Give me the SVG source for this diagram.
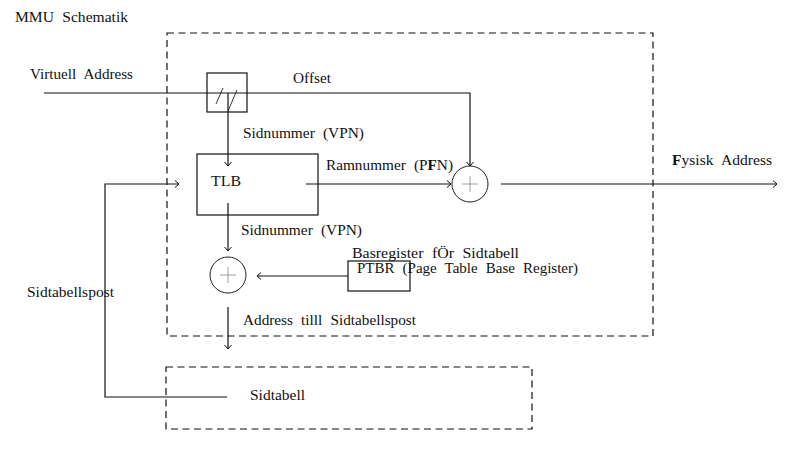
<svg xmlns="http://www.w3.org/2000/svg" width="802" height="469" viewBox="0 0 802 469">
<defs>
<style>
text{font-family:"Liberation Serif","Times New Roman",serif;font-size:14px;fill:#111;word-spacing:4px;}
.ln{fill:none;stroke:#111;stroke-width:1.2;}
.bx{fill:none;stroke:#111;stroke-width:1.2;}
.ds{fill:none;stroke:#111;stroke-width:1.2;stroke-dasharray:7,4.5;}
.cr{fill:#fff;stroke:#222;stroke-width:1;}
.pl{stroke:#888;stroke-width:0.8;}
.sl{stroke:#222;stroke-width:0.9;}
</style>
<marker id="ah" markerWidth="10" markerHeight="10" refX="7" refY="5" orient="auto" markerUnits="userSpaceOnUse">
<polyline points="3,1.5 7,5 3,8.5" fill="none" stroke="#111" stroke-width="1"/>
</marker>
</defs>
<rect width="802" height="469" fill="#fff"/>
<text x="15" y="22" textLength="113" lengthAdjust="spacingAndGlyphs">MMU Schematik</text>
<g id="mmu-boundary"><rect class="ds" x="167" y="33" width="486" height="303"/></g>
<g id="sidtabell-boundary"><rect class="ds" x="166" y="367" width="366" height="62"/></g>
<g id="connectors">
<polyline class="ln" points="44,93 470,93 470,166" marker-end="url(#ah)"/>
<line class="ln" x1="228" y1="93" x2="228" y2="166" marker-end="url(#ah)"/>
<line class="ln" x1="306" y1="184" x2="451" y2="184" marker-end="url(#ah)"/>
<line class="ln" x1="501" y1="184" x2="777" y2="184" marker-end="url(#ah)"/>
<line class="ln" x1="228" y1="203" x2="228" y2="251" marker-end="url(#ah)"/>
<line class="ln" x1="348" y1="276" x2="257" y2="276" marker-end="url(#ah)"/>
<line class="ln" x1="228" y1="307" x2="228" y2="349" marker-end="url(#ah)"/>
<polyline class="ln" points="227,397 105,397 105,184 179,184" marker-end="url(#ah)"/>
</g>
<g id="splitter">
<rect class="bx" x="207" y="73" width="40" height="39"/>
<line class="sl" x1="216" y1="104" x2="223" y2="88"/>
<line class="sl" x1="228" y1="111" x2="237" y2="90"/>
</g>
<g id="tlb">
<rect class="bx" x="197" y="154" width="121" height="61"/>
<text x="211" y="186" textLength="30" lengthAdjust="spacingAndGlyphs">TLB</text>
</g>
<g id="adder1">
<circle class="cr" cx="470" cy="184" r="18"/>
<line class="pl" x1="462" y1="184" x2="478" y2="184"/>
<line class="pl" x1="470" y1="176" x2="470" y2="192"/>
</g>
<g id="adder2">
<circle class="cr" cx="228" cy="275" r="18"/>
<line class="pl" x1="220" y1="275" x2="236" y2="275"/>
<line class="pl" x1="228" y1="267" x2="228" y2="283"/>
</g>
<g id="ptbr">
<rect class="bx" x="348" y="261" width="62" height="30"/>
<text x="352" y="258" textLength="167" lengthAdjust="spacingAndGlyphs">Basregister fÖr Sidtabell</text>
<text x="357" y="273" textLength="221" lengthAdjust="spacingAndGlyphs">PTBR (Page Table Base Register)</text>
</g>
<g id="labels">
<text x="30" y="79" textLength="103" lengthAdjust="spacingAndGlyphs">Virtuell Address</text>
<text x="293" y="83" textLength="38" lengthAdjust="spacingAndGlyphs">Offset</text>
<text x="243" y="138" textLength="121" lengthAdjust="spacingAndGlyphs">Sidnummer (VPN)</text>
<text x="326" y="170" textLength="127" lengthAdjust="spacingAndGlyphs">Ramnummer (P<tspan font-weight="bold">F</tspan>N)</text>
<text x="672" y="165" textLength="100" lengthAdjust="spacingAndGlyphs"><tspan font-weight="bold">F</tspan>ysisk Address</text>
<text x="241" y="235" textLength="121" lengthAdjust="spacingAndGlyphs">Sidnummer (VPN)</text>
<text x="27" y="297" textLength="87" lengthAdjust="spacingAndGlyphs">Sidtabellspost</text>
<text x="243" y="325" textLength="173" lengthAdjust="spacingAndGlyphs">Address tilll Sidtabellspost</text>
<text x="250" y="400" textLength="55" lengthAdjust="spacingAndGlyphs">Sidtabell</text>
</g>
</svg>
